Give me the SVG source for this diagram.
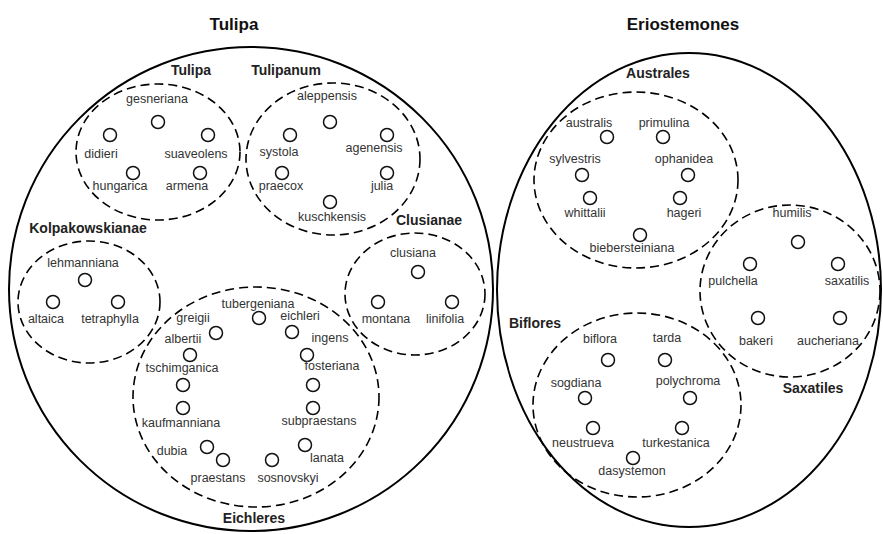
<svg xmlns="http://www.w3.org/2000/svg" width="883" height="534" viewBox="0 0 883 534">
<style>
.bg{fill:#fff}
.outer{fill:none;stroke:#000;stroke-width:2}
.grp{fill:none;stroke:#000;stroke-width:1.6;stroke-dasharray:9 5}
.sp circle{fill:#fff;stroke:#111;stroke-width:1.5}
text{font-family:"Liberation Sans",Arial,sans-serif;text-anchor:middle}
.title{font-size:17px;font-weight:bold;fill:#111}
.sub{font-size:14px;font-weight:bold;fill:#222}
.lab{font-size:12.5px;fill:#333}
</style>
<rect class="bg" width="883" height="534"/>
<g id="connectors"></g>
<g id="clade-Tulipa">
<ellipse class="outer" cx="251" cy="289" rx="242" ry="242"/>
<text class="title" x="234" y="30">Tulipa</text>
</g>
<g id="clade-Eriostemones">
<ellipse class="outer" cx="689" cy="290" rx="192" ry="237"/>
<text class="title" x="683" y="30">Eriostemones</text>
</g>
<g id="sect-Tulipa">
<ellipse class="grp" cx="158" cy="152" rx="82" ry="68"/>
<text class="sub" x="191" y="75">Tulipa</text>
<g class="sp">
<text class="lab" x="157" y="103">gesneriana</text><circle cx="158" cy="122" r="6.5"/>
<circle cx="110" cy="135" r="6.5"/><text class="lab" x="101" y="158">didieri</text>
<circle cx="208" cy="135" r="6.5"/><text class="lab" x="196" y="158">suaveolens</text>
<circle cx="133" cy="173" r="6.5"/><text class="lab" x="120" y="190">hungarica</text>
<circle cx="200" cy="173" r="6.5"/><text class="lab" x="187" y="190">armena</text>
</g>
</g>
<g id="sect-Tulipanum">
<ellipse class="grp" cx="333" cy="159" rx="87" ry="76"/>
<text class="sub" x="286" y="75">Tulipanum</text>
<g class="sp">
<text class="lab" x="327" y="100">aleppensis</text><circle cx="330" cy="122" r="6.5"/>
<circle cx="290" cy="135" r="6.5"/><text class="lab" x="279" y="156">systola</text>
<circle cx="387" cy="135" r="6.5"/><text class="lab" x="374" y="152">agenensis</text>
<circle cx="282" cy="173" r="6.5"/><text class="lab" x="281" y="190">praecox</text>
<circle cx="387" cy="173" r="6.5"/><text class="lab" x="382" y="190">julia</text>
<circle cx="330" cy="202" r="6.5"/><text class="lab" x="332" y="221">kuschkensis</text>
</g>
</g>
<g id="sect-Kolpakowskianae">
<ellipse class="grp" cx="89" cy="302" rx="71" ry="61"/>
<text class="sub" x="88" y="233">Kolpakowskianae</text>
<g class="sp">
<text class="lab" x="83" y="267">lehmanniana</text><circle cx="85" cy="280" r="6.5"/>
<circle cx="53" cy="302" r="6.5"/><text class="lab" x="46" y="323">altaica</text>
<circle cx="118" cy="302" r="6.5"/><text class="lab" x="110" y="323">tetraphylla</text>
</g>
</g>
<g id="sect-Clusianae">
<ellipse class="grp" cx="415" cy="294" rx="70" ry="61"/>
<text class="sub" x="429" y="225">Clusianae</text>
<g class="sp">
<text class="lab" x="413" y="257">clusiana</text><circle cx="418" cy="272" r="6.5"/>
<circle cx="378" cy="302" r="6.5"/><text class="lab" x="386" y="323">montana</text>
<circle cx="452" cy="302" r="6.5"/><text class="lab" x="445" y="323">linifolia</text>
</g>
</g>
<g id="sect-Eichleres">
<ellipse class="grp" cx="256" cy="397" rx="123" ry="110"/>
<text class="sub" x="254" y="523">Eichleres</text>
<g class="sp">
<text class="lab" x="258" y="308">tubergeniana</text><circle cx="259" cy="318" r="6.5"/>
<text class="lab" x="193" y="322">greigii</text><circle cx="216" cy="333" r="6.5"/>
<text class="lab" x="183" y="343">albertii</text><circle cx="190" cy="355" r="6.5"/>
<text class="lab" x="182" y="372">tschimganica</text><circle cx="183" cy="385" r="6.5"/>
<circle cx="183" cy="408" r="6.5"/><text class="lab" x="181" y="427">kaufmanniana</text>
<text class="lab" x="172" y="455">dubia</text><circle cx="207" cy="447" r="6.5"/>
<circle cx="223" cy="460" r="6.5"/><text class="lab" x="218" y="482">praestans</text>
<circle cx="272" cy="460" r="6.5"/><text class="lab" x="288" y="482">sosnovskyi</text>
<circle cx="305" cy="445" r="6.5"/><text class="lab" x="327" y="462">lanata</text>
<circle cx="313" cy="408" r="6.5"/><text class="lab" x="319" y="425">subpraestans</text>
<circle cx="313" cy="385" r="6.5"/>
<circle cx="307" cy="355" r="6.5"/><text class="lab" x="332" y="370">fosteriana</text>
<text class="lab" x="330" y="342">ingens</text>
<circle cx="292" cy="332" r="6.5"/><text class="lab" x="300" y="320">eichleri</text>
</g>
</g>
<g id="sect-Australes">
<ellipse class="grp" cx="636" cy="180" rx="102" ry="88"/>
<text class="sub" x="658" y="78">Australes</text>
<g class="sp">
<text class="lab" x="589" y="127">australis</text><circle cx="607" cy="137" r="6.5"/>
<text class="lab" x="664" y="127">primulina</text><circle cx="663" cy="137" r="6.5"/>
<text class="lab" x="575" y="163">sylvestris</text><circle cx="582" cy="175" r="6.5"/>
<text class="lab" x="684" y="163">ophanidea</text><circle cx="688" cy="175" r="6.5"/>
<circle cx="590" cy="198" r="6.5"/><text class="lab" x="585" y="217">whittalii</text>
<circle cx="680" cy="198" r="6.5"/><text class="lab" x="684" y="217">hageri</text>
<circle cx="640" cy="235" r="6.5"/><text class="lab" x="632" y="252">biebersteiniana</text>
</g>
</g>
<g id="sect-Saxatiles">
<ellipse class="grp" cx="790" cy="291" rx="90" ry="86"/>
<text class="sub" x="813" y="393">Saxatiles</text>
<g class="sp">
<text class="lab" x="792" y="217">humilis</text><circle cx="798" cy="242" r="6.5"/>
<circle cx="750" cy="264" r="6.5"/><text class="lab" x="733" y="285">pulchella</text>
<circle cx="838" cy="264" r="6.5"/><text class="lab" x="847" y="285">saxatilis</text>
<circle cx="758" cy="318" r="6.5"/><text class="lab" x="756" y="345">bakeri</text>
<circle cx="840" cy="318" r="6.5"/><text class="lab" x="828" y="345">aucheriana</text>
</g>
</g>
<g id="sect-Biflores">
<ellipse class="grp" cx="637" cy="405" rx="104" ry="92"/>
<text class="sub" x="535" y="328">Biflores</text>
<g class="sp">
<text class="lab" x="600" y="343">biflora</text><circle cx="608" cy="360" r="6.5"/>
<text class="lab" x="667" y="342">tarda</text><circle cx="665" cy="360" r="6.5"/>
<text class="lab" x="576" y="387">sogdiana</text><circle cx="585" cy="398" r="6.5"/>
<text class="lab" x="688" y="385">polychroma</text><circle cx="690" cy="398" r="6.5"/>
<circle cx="593" cy="428" r="6.5"/><text class="lab" x="583" y="447">neustrueva</text>
<circle cx="682" cy="428" r="6.5"/><text class="lab" x="676" y="447">turkestanica</text>
<circle cx="633" cy="458" r="6.5"/><text class="lab" x="632" y="475">dasystemon</text>
</g>
</g>
</svg>
